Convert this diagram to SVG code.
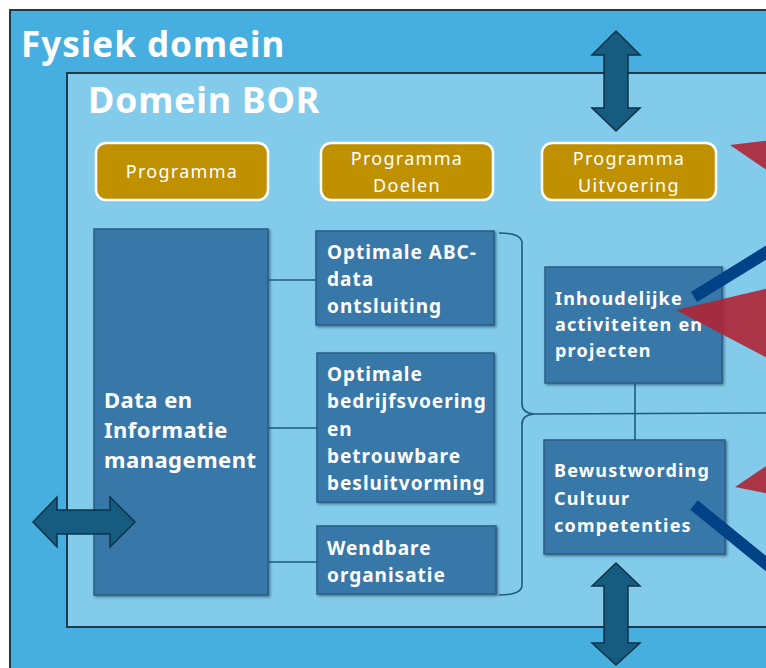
<svg xmlns="http://www.w3.org/2000/svg" width="766" height="668" viewBox="0 0 766 668">
<defs>
<style>
.title{font-family:"Noto Sans","Open Sans",sans-serif;font-weight:bold;fill:#fff}
.gold rect{fill:#BF9000;stroke:#fff;stroke-width:2.5}
.gold text{font-family:"Noto Sans","Open Sans",sans-serif;font-size:18px;letter-spacing:1.3px;fill:#fff;text-anchor:middle}
.box rect{fill:#3878A9;stroke:#2A5E85;stroke-width:1.5;filter:url(#sh)}
.box text{font-family:"Noto Sans","Open Sans",sans-serif;font-weight:bold;fill:#fff}
.t22{font-size:22px;letter-spacing:0.5px}
.t19{font-size:19px;letter-spacing:1px}
.t18{font-size:18px;letter-spacing:1.2px}
.conn{stroke:#1E5A7C;stroke-width:1.6;fill:none}
.dbl{fill:#165B80;stroke:#0E3346;stroke-width:1.5}
.red{fill:#AF2534;fill-opacity:0.9}
.blu{stroke:#014185;stroke-width:12}
</style>
<filter id="sh" x="-5%" y="-5%" width="112%" height="112%">
<feDropShadow dx="1.5" dy="1.5" stdDeviation="1" flood-color="#1c3d55" flood-opacity="0.6"/>
</filter>
</defs>
<rect width="766" height="668" fill="#fff"/>
<g id="fysiek-domein">
<rect x="10" y="10" width="780" height="680" fill="#46AFE0" stroke="#1B3A4A" stroke-width="2"/>
<text class="title" x="21" y="57" font-size="35" letter-spacing="1">Fysiek domein</text>
</g>
<g id="domein-bor">
<rect x="67" y="73" width="720" height="554" fill="#83CBEB" stroke="#1B3A4A" stroke-width="2"/>
<text class="title" x="88" y="113" font-size="36" letter-spacing="0.7">Domein BOR</text>
</g>
<g id="connectors">
<line class="conn" x1="268" y1="280" x2="317" y2="280"/>
<line class="conn" x1="268" y1="428" x2="317" y2="428"/>
<line class="conn" x1="268" y1="562" x2="317" y2="562"/>
<path class="conn" d="M499,233 Q522,233 522,243 L522,404 Q522,413 534,414 Q522,415 522,424 L522,585 Q522,595 499,595"/>
<line class="conn" x1="534" y1="414" x2="766" y2="413"/>
<line class="conn" x1="635" y1="383" x2="635" y2="440"/>
</g>
<g id="programma" class="gold">
<rect x="96" y="143" width="172" height="57" rx="10"/>
<text x="182" y="178">Programma</text>
</g>
<g id="programma-doelen" class="gold">
<rect x="321" y="143" width="172" height="57" rx="10"/>
<text x="407" y="165">Programma</text>
<text x="407" y="192">Doelen</text>
</g>
<g id="programma-uitvoering" class="gold">
<rect x="542" y="143" width="174" height="57" rx="10"/>
<text x="629" y="165">Programma</text>
<text x="629" y="192">Uitvoering</text>
</g>
<g id="data-informatie" class="box">
<rect x="94" y="229" width="174" height="366"/>
<text class="t22" x="104" y="408">Data en</text>
<text class="t22" x="104" y="438">Informatie</text>
<text class="t22" x="104" y="468">management</text>
</g>
<g id="optimale-abc" class="box">
<rect x="316" y="231" width="178" height="94"/>
<text class="t19" x="327" y="259">Optimale ABC-</text>
<text class="t19" x="327" y="286">data</text>
<text class="t19" x="327" y="313">ontsluiting</text>
</g>
<g id="optimale-bedrijfsvoering" class="box">
<rect x="317" y="353" width="177" height="149"/>
<text class="t19" x="327" y="381">Optimale</text>
<text class="t19" x="327" y="408">bedrijfsvoering</text>
<text class="t19" x="327" y="436">en</text>
<text class="t19" x="327" y="463">betrouwbare</text>
<text class="t19" x="327" y="490">besluitvorming</text>
</g>
<g id="wendbare" class="box">
<rect x="317" y="526" width="179" height="68"/>
<text class="t19" x="327" y="555">Wendbare</text>
<text class="t19" x="327" y="582">organisatie</text>
</g>
<g id="inhoudelijke" class="box">
<rect x="545" y="267" width="177" height="116"/>
<text class="t18" x="555" y="305">Inhoudelijke</text>
<text class="t18" x="555" y="331">activiteiten en</text>
<text class="t18" x="555" y="357">projecten</text>
</g>
<g id="bewustwording" class="box">
<rect x="544" y="440" width="181" height="114"/>
<text class="t18" x="554" y="477">Bewustwording</text>
<text class="t18" x="554" y="505">Cultuur</text>
<text class="t18" x="554" y="532">competenties</text>
</g>
<g id="arrow-top">
<path class="dbl" d="M616,31 L640,55 L628,55 L628,108 L640,108 L616,131 L592,108 L604,108 L604,55 L592,55 Z"/>
</g>
<g id="arrow-bottom">
<path class="dbl" d="M616,563 L640,586 L628,586 L628,643 L640,643 L616,665 L592,643 L604,643 L604,586 L592,586 Z"/>
</g>
<g id="arrow-left">
<path class="dbl" d="M33,522 L57,497 L57,510 L110,510 L110,497 L135,522 L110,547 L110,534 L57,534 L57,547 Z"/>
</g>
<g id="red-triangles">
<polygon class="red" points="730,145 790,138 790,186"/>
<polygon class="red" points="676,310 790,283 790,370"/>
<polygon class="red" points="735,487 790,450 790,498"/>
</g>
<g id="blue-lines">
<line class="blu" x1="694" y1="297" x2="780" y2="244"/>
<line class="blu" x1="694" y1="505" x2="780" y2="575"/>
</g>
</svg>
